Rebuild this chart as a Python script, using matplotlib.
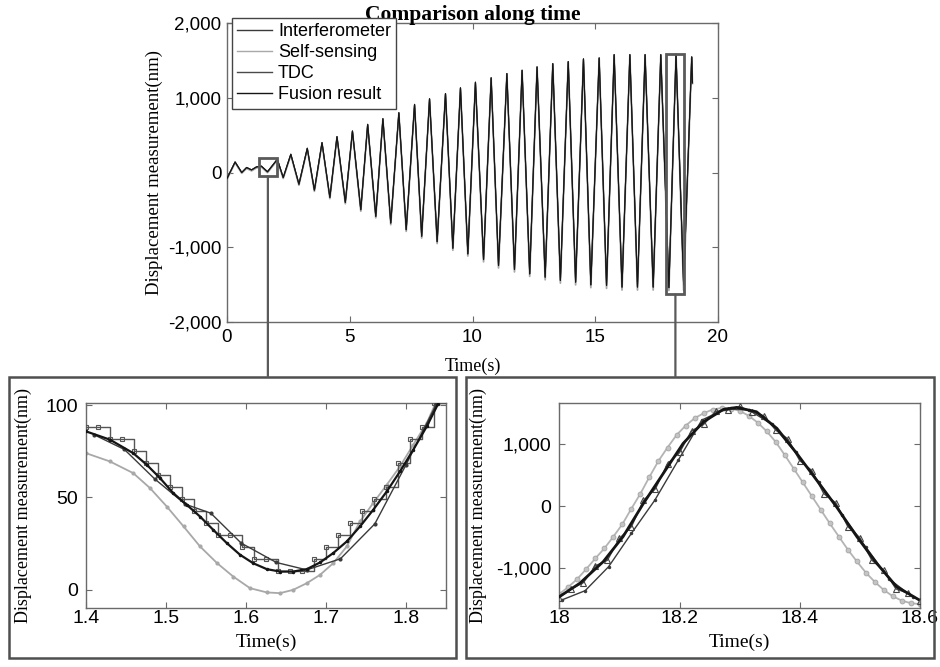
import matplotlib
matplotlib.use("Agg")
import matplotlib.pyplot as plt
from matplotlib.patches import Rectangle, ConnectionPatch
from matplotlib.ticker import FuncFormatter
from matplotlib.transforms import blended_transform_factory
from matplotlib.lines import Line2D

# ---------------- data ----------------
series_names = ["Interferometer", "Self-sensing", "TDC", "Fusion result"]

# main plot: extrema of the displacement signal (time s, displacement nm)
main_t = [0.0, 0.33, 0.6, 0.8, 1.0, 1.2, 1.4, 1.65, 2.05, 2.29, 2.6, 2.93, 3.27, 3.56,
          3.87, 4.19, 4.48, 4.82, 5.11, 5.45, 5.73, 6.06, 6.35, 6.67, 7.0, 7.3, 7.64,
          7.93, 8.25, 8.56, 8.9, 9.2, 9.51, 9.81, 10.12, 10.45, 10.76, 11.06, 11.4,
          11.71, 12.02, 12.33, 12.63, 12.96, 13.27, 13.58, 13.9, 14.2, 14.52, 14.82,
          15.16, 15.46, 15.77, 16.09, 16.41, 16.72, 17.03, 17.36, 17.67, 18.0, 18.29,
          18.6, 18.93, 18.96]
main_y = [-80, 141, 0, 67, 35, 75, 85, 10, 177, -67, 244, -156, 324, -236, 400, -333,
          480, -400, 555, -498, 644, -587, 720, -676, 800, -765, 911, -853, 987, -925,
          1057, -1013, 1133, -1089, 1208, -1165, 1267, -1245, 1324, -1298, 1368, -1356,
          1413, -1400, 1457, -1445, 1484, -1467, 1520, -1503, 1533, -1512, 1577, -1533,
          1577, -1533, 1577, -1533, 1577, -1540, 1584, -1500, 1547, 1200]
main_self_y = [-90, 130, -10, 55, 22, 62, 74, -2, 165, -80, 232, -170, 312, -252, 388,
               -350, 468, -418, 543, -518, 632, -607, 708, -698, 788, -787, 899, -877,
               975, -950, 1045, -1040, 1121, -1117, 1196, -1195, 1255, -1277, 1312, -1330,
               1356, -1390, 1401, -1435, 1445, -1480, 1472, -1503, 1508, -1540, 1521,
               -1550, 1565, -1572, 1565, -1572, 1565, -1572, 1565, -1578, 1572, -1575,
               1535, 1190]

# left inset (1.4 - 1.85 s)
L_fus_t = [1.4, 1.43, 1.459, 1.476, 1.4925, 1.509, 1.526, 1.5425, 1.559, 1.576, 1.5925,
           1.609, 1.626, 1.6425, 1.659, 1.676, 1.6925, 1.709, 1.726, 1.7425, 1.759,
           1.776, 1.7925, 1.809, 1.826, 1.84]
L_fus_y = [85.8, 81.3, 74.0, 67.7, 60.5, 52.4, 46.0, 39.7, 32.5, 25.3, 19.0, 14.4, 11.2,
           9.9, 9.9, 11.2, 14.8, 19.9, 26.2, 34.3, 43.3, 53.3, 64.1, 75.8, 88.5, 100.6]

L_int_t = [1.41, 1.448, 1.486, 1.524, 1.556, 1.594, 1.638, 1.676, 1.718, 1.761, 1.8, 1.838]
L_int_y = [84, 76, 60, 46.4, 41.5, 25.3, 14.8, 10.8, 16.8, 35.7, 67.7, 100.6]

L_self_t = [1.4, 1.43, 1.459, 1.48, 1.501, 1.522, 1.5425, 1.564, 1.584, 1.605, 1.626,
            1.6425, 1.659, 1.676, 1.6925, 1.709, 1.726, 1.7425, 1.759, 1.776, 1.7925,
            1.809, 1.826, 1.8375]
L_self_y = [74.0, 69.5, 63.2, 55.1, 45.1, 34.3, 23.5, 14.4, 7.2, 0.9, -1.4, -1.8, 0.0,
            3.6, 8.1, 14.4, 23.5, 37.0, 47.0, 56.9, 66.8, 78.5, 90.3, 101.6]

L_tdc_t = [1.4, 1.415, 1.43, 1.445, 1.46, 1.475, 1.49, 1.505, 1.52, 1.535, 1.55, 1.565,
           1.58, 1.595, 1.61, 1.625, 1.64, 1.655, 1.67, 1.685, 1.7, 1.715, 1.73, 1.745,
           1.76, 1.775, 1.79, 1.805, 1.82, 1.835, 1.85]
L_tdc_y = [88.4, 88.4, 81.9, 81.9, 75.4, 68.9, 62.4, 55.9, 49.4, 42.9, 36.4, 29.9, 29.9,
           23.4, 16.9, 16.9, 10.4, 10.4, 10.4, 16.9, 23.4, 29.9, 36.4, 42.9, 49.4, 55.9,
           68.9, 81.9, 88.4, 101.4, 107.9]

# right inset (18.0 - 18.6 s)
R_fus_t = [18.0, 18.034, 18.073, 18.106, 18.14, 18.173, 18.206, 18.24, 18.273, 18.295,
           18.328, 18.362, 18.395, 18.428, 18.461, 18.495, 18.528, 18.561, 18.597]
R_fus_y = [-1455, -1241, -894, -492, 43, 524, 1006, 1353, 1552, 1584, 1514, 1247, 845,
           417, -11, -492, -920, -1295, -1498]

R_int_t = [18.004, 18.043, 18.082, 18.12, 18.159, 18.198, 18.237, 18.276, 18.315,
           18.354, 18.393, 18.432, 18.471, 18.51, 18.549, 18.588]
R_int_y = [-1509, -1359, -974, -438, 96, 738, 1380, 1560, 1545, 1310, 860, 380, -150,
           -660, -1175, -1460]

R_self_t = [18.0, 18.015, 18.03, 18.045, 18.06, 18.075, 18.09, 18.105, 18.12, 18.135,
            18.15, 18.165, 18.18, 18.195, 18.21, 18.225, 18.24, 18.255, 18.27, 18.285,
            18.3, 18.315, 18.33, 18.345, 18.36, 18.375, 18.39, 18.405, 18.42, 18.435,
            18.45, 18.465, 18.48, 18.495, 18.51, 18.525, 18.54, 18.555, 18.57, 18.585,
            18.6]
R_self_y = [-1412, -1300, -1170, -1010, -840, -680, -490, -290, -40, 200, 470, 725, 940,
            1140, 1290, 1410, 1490, 1550, 1575, 1565, 1530, 1450, 1340, 1200, 1030, 820,
            600, 380, 160, -60, -280, -490, -700, -890, -1070, -1220, -1350, -1450, -1520,
            -1560, -1575]

R_tdc_t = [18.0, 18.02, 18.04, 18.06, 18.08, 18.1, 18.12, 18.14, 18.16, 18.18, 18.2,
           18.22, 18.24, 18.26, 18.28, 18.3, 18.32, 18.34, 18.36, 18.38, 18.4, 18.42,
           18.44, 18.46, 18.48, 18.5, 18.52, 18.54, 18.56, 18.58, 18.6]
R_tdc_y = [-1470, -1330, -1230, -960, -870, -520, -330, 90, 280, 680, 860, 1210, 1310,
           1520, 1540, 1600, 1510, 1450, 1220, 1080, 730, 570, 200, 50, -330, -510, -870,
           -1030, -1330, -1400, -1520]

main_xticks = [0, 5, 10, 15, 20]
main_yticks = [-2000, -1000, 0, 1000, 2000]
L_xticks = [1.4, 1.5, 1.6, 1.7, 1.8]
L_yticks = [0, 50, 100]
R_xticks = [18, 18.2, 18.4, 18.6]
R_yticks = [-1000, 0, 1000]

# ---------------- style ----------------
plt.rcParams['font.family'] = ['Liberation Sans', 'DejaVu Sans']
SERIF = ['Liberation Serif', 'DejaVu Serif']
SPINE = '#6a6a6a'
C_INT, C_SELF, C_TDC, C_FUS = '#3a3a3a', '#a8a8a8', '#4a4a4a', '#151515'

fig = plt.figure(figsize=(9.4, 6.67), dpi=100)
W, H = 940.0, 667.0


def ax_px(l, t, r, b):
    return fig.add_axes([l / W, 1 - b / H, (r - l) / W, (b - t) / H])


def style(ax, fs, xpad, ypad):
    for s in ax.spines.values():
        s.set_color(SPINE)
        s.set_linewidth(1.0)
    ax.tick_params(direction='in', top=True, right=True, length=4, width=0.8,
                   color=SPINE, labelsize=fs, labelcolor='black')
    ax.tick_params(axis='x', pad=xpad)
    ax.tick_params(axis='y', pad=ypad)


comma = FuncFormatter(lambda v, p: f"{v:,.0f}")

# ---------------- main axes ----------------
ax = ax_px(227, 23, 718, 322)
ax.plot(main_t, main_self_y, color=C_SELF, lw=1.3, zorder=2)
ax.plot(main_t, main_y, color=C_INT, lw=0.8, zorder=3)
ax.plot(main_t, main_y, color=C_TDC, lw=0.8, zorder=3)
ax.plot(main_t, main_y, color=C_FUS, lw=0.8, zorder=4)
ax.set_xlim(0, 20)
ax.set_ylim(-2000, 2000)
ax.set_xticks(main_xticks)
ax.set_yticks(main_yticks)
ax.yaxis.set_major_formatter(comma)
style(ax, 13.5, 5, 4)
ax.set_title("Comparison along time", family=SERIF, fontweight='bold', fontsize=15.5,
             pad=2)
ax.set_xlabel("Time(s)", family=SERIF, fontsize=13)
ax.set_ylabel("Displacement measurement(nm)", family=SERIF, fontsize=13.5)
ax.xaxis.set_label_coords(0.5, -0.12)
ax.yaxis.set_label_coords(-0.13, 0.5)

handles = [Line2D([], [], color=c, lw=1.0) for c in (C_INT, C_SELF, C_TDC, C_FUS)]
leg = ax.legend(handles, series_names, loc='upper left',
                bbox_to_anchor=(232 / W, 1 - 18 / H), bbox_transform=fig.transFigure,
                borderaxespad=0, fontsize=13, frameon=True, fancybox=False,
                edgecolor='#444444', framealpha=1, handlelength=1.9, handletextpad=0.35,
                labelspacing=0.22, borderpad=0.3)
leg.get_frame().set_linewidth(1.0)

# zoom boxes on main axes
box_col = '#5a5a5a'
ax.add_patch(Rectangle((1.3, -50), 0.73, 240, fill=False, ec=box_col, lw=2.0,
                       zorder=6, clip_on=False))
ax.add_patch(Rectangle((17.9, -1632), 0.73, 3219, fill=False, ec=box_col, lw=2.0,
                       zorder=6, clip_on=False))

# ---------------- left inset ----------------
axl = ax_px(86, 403.3, 446, 608.3)
axl.plot(L_self_t, L_self_y, color=C_SELF, lw=1.3, marker='o', ms=2, zorder=2)
axl.plot(L_tdc_t, L_tdc_y, color='#555555', lw=1.0, drawstyle='steps-post', zorder=3)
axl.plot(L_tdc_t, L_tdc_y, ls='none', marker='s', ms=3, mfc='none', mec='#555555',
         mew=0.8, zorder=3)
axl.plot(L_int_t, L_int_y, color=C_INT, lw=1.0, marker='.', ms=4, zorder=4)
axl.plot(L_fus_t, L_fus_y, color=C_FUS, lw=1.6, marker='.', ms=3, zorder=5)
axl.set_xlim(1.4, 1.85)
axl.set_ylim(-10, 101)
axl.set_xticks(L_xticks)
axl.set_yticks(L_yticks)
axl.xaxis.set_major_formatter(FuncFormatter(lambda v, p: f"{v:.1f}"))
style(axl, 14, 1, 6)
axl.set_xlabel("Time(s)", family=SERIF, fontsize=14)
axl.set_ylabel("Displacement measurement(nm)", family=SERIF, fontsize=13)
axl.xaxis.set_label_coords(0.5, -0.125)
axl.yaxis.set_label_coords(-0.15, 0.5)

# ---------------- right inset ----------------
axr = ax_px(559.3, 403.3, 920, 608.3)
axr.plot(R_self_t, R_self_y, color='#b4b4b4', lw=1.3, marker='o', ms=3.5,
         mfc='#c4c4c4', mec='#a4a4a4', mew=0.6, zorder=2)
axr.plot(R_int_t, R_int_y, color=C_INT, lw=1.0, marker='.', ms=3, zorder=3)
axr.plot(R_tdc_t, R_tdc_y, color='#444444', lw=1.0, marker='^', ms=4, mfc='none',
         mew=0.8, zorder=4)
axr.plot(R_fus_t, R_fus_y, color=C_FUS, lw=2.0, zorder=5)
axr.set_xlim(18, 18.6)
axr.set_ylim(-1642, 1650)
axr.set_xticks(R_xticks)
axr.set_yticks(R_yticks)
axr.xaxis.set_major_formatter(FuncFormatter(lambda v, p: f"{v:g}"))
axr.yaxis.set_major_formatter(comma)
style(axr, 14, 1, 6)
axr.set_xlabel("Time(s)", family=SERIF, fontsize=14)
axr.set_ylabel("Displacement measurement(nm)", family=SERIF, fontsize=13)
axr.xaxis.set_label_coords(0.5, -0.125)
axr.yaxis.set_label_coords(-0.20, 0.5)

# ---------------- frames and connectors ----------------
frame_col = '#4f4f4f'
fig.add_artist(Rectangle((9.3 / W, 1 - 658 / H), (455.7 - 9.3) / W, (658 - 376.7) / H,
                         transform=fig.transFigure, fill=False, ec=frame_col, lw=1.8))
fig.add_artist(Rectangle((465.7 / W, 1 - 658 / H), (934 - 465.7) / W, (658 - 376.7) / H,
                         transform=fig.transFigure, fill=False, ec=frame_col, lw=1.8))

blend = blended_transform_factory(ax.transData, fig.transFigure)
for cx, by in [(1.665, -50), (18.265, -1632)]:
    con = ConnectionPatch(xyA=(cx, by), coordsA=ax.transData,
                          xyB=(cx, 1 - 376.7 / H), coordsB=blend,
                          color=box_col, lw=1.6)
    con.set_clip_on(False)
    fig.add_artist(con)

fig.savefig("out.png", dpi=100)
